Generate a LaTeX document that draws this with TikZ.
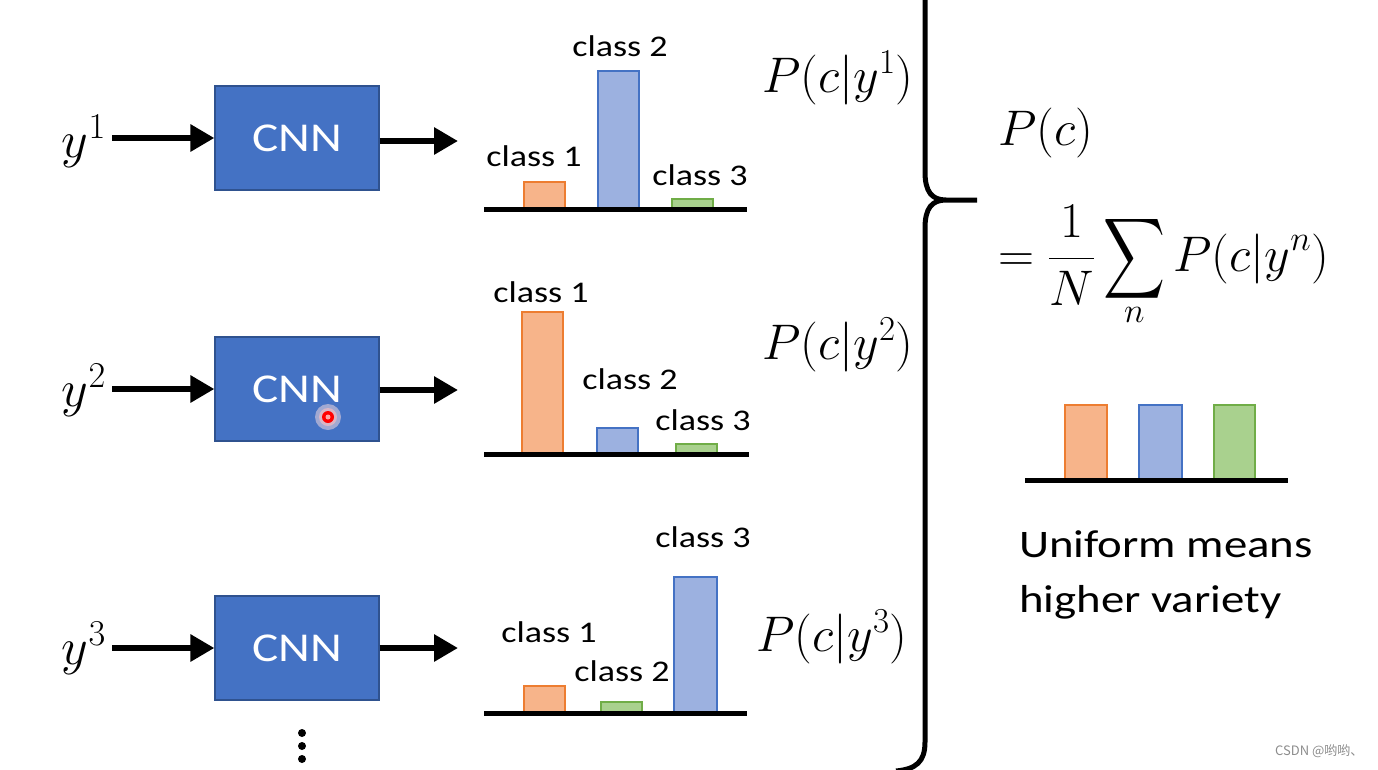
\RequirePackage{fix-cm}
\documentclass[tikz,border=0pt]{standalone}
\usepackage{graphicx}
\usepackage{amsmath}
\usepackage[no-math]{fontspec}
\setsansfont{Carlito}[FakeStretch=1.2]
\newfontfamily\cjkfont{Noto Sans CJK SC}
\usetikzlibrary{arrows.meta, positioning}

\definecolor{cnnblue}{HTML}{4472C4}
\definecolor{cnnedge}{HTML}{2F528F}
\definecolor{orangefill}{HTML}{F7B48A}
\definecolor{orangeedge}{HTML}{ED7D31}
\definecolor{bluefill}{HTML}{9CB1E0}
\definecolor{blueedge}{HTML}{4472C4}
\definecolor{greenfill}{HTML}{A9D18E}
\definecolor{greenedge}{HTML}{70AD47}

% a big summation sign
\newcommand{\bigsum}{\mathop{\vcenter{\hbox{\resizebox*{62pt}{90pt}{$\displaystyle\sum$}}}}\limits}

\begin{document}
\begin{tikzpicture}[x=1pt, y=-1pt, font=\sffamily]

        % Setup the styles
        \tikzset{cnn style/.style={draw=cnnedge,
                                   line width=1.2pt,
                                   fill=cnnblue,
                                   text=white,
                                   minimum width=164pt,
                                   minimum height=104pt,
                                   font=\sffamily\fontsize{41}{46}\selectfont},
                 arrow style/.style={line width=6pt,
                                     -{Triangle[length=24pt, width=26pt]}},
                 math style/.style={font=\fontsize{50}{56}\selectfont, inner sep=0pt},
                 class style/.style={font=\sffamily\fontsize{30}{34}\selectfont, inner sep=0pt},
                 axis style/.style={line width=5pt},
                 orange bar/.style={draw=orangeedge, fill=orangefill, line width=1.2pt},
                 blue bar/.style={draw=blueedge, fill=bluefill, line width=1.2pt},
                 green bar/.style={draw=greenedge, fill=greenfill, line width=1.2pt}}

        \useasboundingbox (0,0) rectangle (1378,769);

        % Draw the inputs and the networks
        \node[math style, font=\fontsize{52}{56}\selectfont, anchor=east] at (106,141) (Y1) {$y^1$};
        \node[math style, font=\fontsize{52}{56}\selectfont, anchor=east] at (106,390) (Y2) {$y^2$};
        \node[math style, font=\fontsize{52}{56}\selectfont, anchor=east] at (106,648) (Y3) {$y^3$};

        \node[cnn style] at (297,138) (CNN1) {CNN};
        \node[cnn style] at (297,389) (CNN2) {CNN};
        \node[cnn style] at (297,648) (CNN3) {CNN};

        \coordinate (O1) at (458,141);
        \coordinate (O2) at (458,390);
        \coordinate (O3) at (458,648);

        % Connect them with arrows
        \draw[arrow style] ([xshift=6pt]Y1.east |- CNN1.west) -- (CNN1.west);
        \draw[arrow style] ([xshift=6pt]Y2.east |- CNN2.west) -- (CNN2.west);
        \draw[arrow style] ([xshift=6pt]Y3.east |- CNN3.west) -- (CNN3.west);
        \draw[arrow style] (CNN1.east |- O1) -- (O1);
        \draw[arrow style] (CNN2.east |- O2) -- (O2);
        \draw[arrow style] (CNN3.east |- O3) -- (O3);

        % pointer spot
        \fill[red!12!white, opacity=0.5] (328,417) circle (13);
        \fill[red!25!white, opacity=0.6] (328,417) circle (9);
        \fill[red] (328,417) circle (6);
        \fill[red!35!white] (328,417) circle (2.5);

        % vertical dots
        \foreach \y in {733, 746, 759}
            \fill (302,\y) circle (4);

        % First distribution
        \draw[orange bar] (524,209) rectangle (565,182);
        \draw[blue bar] (598,209) rectangle (639,71);
        \draw[green bar] (672,209) rectangle (713,199);
        \draw[axis style] (484,209) -- (747,209);
        \node[class style] at (534,156) (A1) {class 1};
        \node[class style] at (620,46)  (A2) {class 2};
        \node[class style] at (700,175) (A3) {class 3};

        % Second distribution
        \draw[orange bar] (522,454) rectangle (563,312);
        \draw[blue bar] (597,454) rectangle (638,428);
        \draw[green bar] (676,454) rectangle (717,444);
        \draw[axis style] (484,454) -- (749,454);
        \node[class style] at (541,292) (B1) {class 1};
        \node[class style] at (630,379) (B2) {class 2};
        \node[class style] at (703,420) (B3) {class 3};

        % Third distribution
        \draw[orange bar] (524,713) rectangle (565,686);
        \draw[green bar] (601,713) rectangle (642,702);
        \draw[blue bar] (674,713) rectangle (717,577);
        \draw[axis style] (484,713) -- (747,713);
        \node[class style] at (549,632) (C1) {class 1};
        \node[class style] at (622,671) (C2) {class 2};
        \node[class style] at (703,537) (C3) {class 3};

        % Conditionals
        \node[math style] at (838,78)  (P1) {$P(c|y^1)$};
        \node[math style] at (838,345) (P2) {$P(c|y^2)$};
        \node[math style] at (832,637) (P3) {$P(c|y^3)$};

        % The brace
        \draw[line width=5pt]
            (925,-10) -- (925,172) .. controls (925,192) and (932,200) .. (946,200) -- (977,200)
            (946,200) .. controls (932,200) and (925,208) .. (925,228) -- (925,742)
            .. controls (925,762) and (916,769) .. (896,771);

        % Marginal
        \node[math style, anchor=west] at (998,133) (PC) {$P(c)$};
        \node[math style, anchor=north west] at (998,205) (SUM) {$\displaystyle =\frac{1}{N}\bigsum_n P(c|y^n)$};

        % Uniform distribution
        \draw[orange bar] (1065,480) rectangle (1107,405);
        \draw[blue bar] (1139,480) rectangle (1182,405);
        \draw[green bar] (1214,480) rectangle (1255,405);
        \draw[axis style] (1025,480) -- (1288,480);

        \node[font=\sffamily\fontsize{39}{55}\selectfont, align=left, anchor=north west, inner sep=0pt]
            at (1019,530) (U) {Uniform means\\higher variety};

        \node[font=\cjkfont\fontsize{13}{15}\selectfont, text=black!45, anchor=west, inner sep=0pt]
            at (1275,751) (W) {CSDN @哟哟、};

\end{tikzpicture}
\end{document}
